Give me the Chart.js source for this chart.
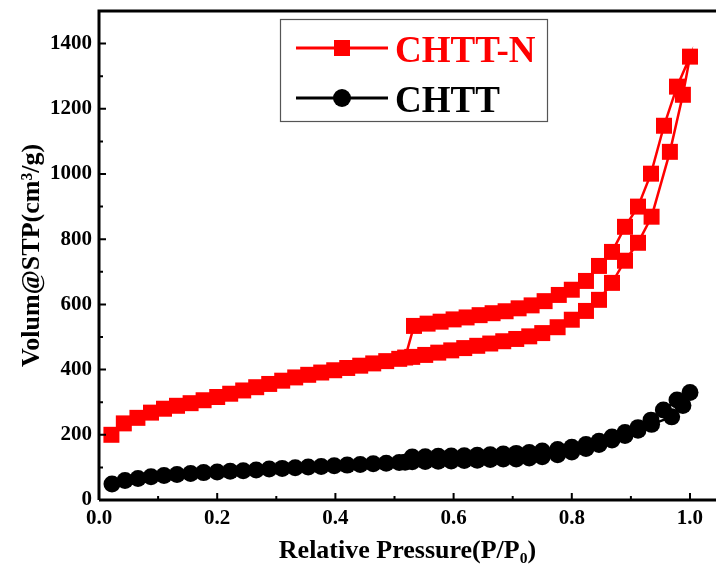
<!DOCTYPE html>
<html>
<head>
<meta charset="utf-8">
<script src="https://cdn.jsdelivr.net/npm/chart.js@4.4.1/dist/chart.umd.min.js"></script>
<style>
  html, body { margin: 0; padding: 0; background: #fff; }
  canvas { display: block; }
</style>
</head>
<body>
<canvas id="isotherm" width="716" height="571"></canvas>
<script>
// N2 isotherms (P/P0, cm3/g)
const seriesNames = ['CHTT-N', 'CHTT'];

const chttNAdsP = [0.021, 0.042, 0.065, 0.088, 0.110, 0.132, 0.155, 0.177, 0.200, 0.222, 0.244, 0.266, 0.288, 0.310, 0.332,
  0.354, 0.376, 0.398, 0.420, 0.442, 0.464, 0.486, 0.508, 0.530, 0.552, 0.574, 0.596, 0.618, 0.640, 0.662,
  0.684, 0.706, 0.728, 0.750, 0.776, 0.800, 0.824, 0.846, 0.868, 0.890, 0.912, 0.935, 0.966, 0.988, 1.000];
const chttNAdsV = [200, 235, 252, 268, 280, 289, 297, 306, 316, 326, 336, 346, 356, 366, 376,
  384, 391, 398, 405, 412, 419, 426, 433, 439, 445, 452, 459, 466, 473, 480,
  487, 494, 502, 512, 530, 553, 580, 614, 666, 734, 789, 869, 1068, 1243, 1360];
const chttNDesP = [0.978, 0.956, 0.934, 0.912, 0.890, 0.868, 0.846, 0.824, 0.800, 0.778, 0.754, 0.732, 0.710, 0.688,
  0.666, 0.644, 0.622, 0.600, 0.578, 0.556, 0.533, 0.518];
const chttNDesV = [1268, 1148, 1001, 900, 838, 761, 718, 672, 645, 629, 610, 597, 588, 579,
  573, 567, 560, 554, 547, 541, 534, 437];

const chttAdsP = [0.022, 0.044, 0.066, 0.088, 0.110, 0.132, 0.155, 0.177, 0.200, 0.222, 0.244, 0.266, 0.288, 0.310, 0.332,
  0.354, 0.376, 0.398, 0.420, 0.442, 0.464, 0.486, 0.508, 0.530, 0.552, 0.574, 0.596, 0.618, 0.640, 0.662,
  0.684, 0.706, 0.728, 0.750, 0.776, 0.800, 0.824, 0.846, 0.868, 0.890, 0.912, 0.935, 0.969, 0.988, 1.000];
const chttAdsV = [49, 60, 66, 71, 75, 78, 81, 84, 86, 88, 90, 92, 95, 97, 99,
  101, 103, 105, 107, 109, 111, 113, 115, 117, 118, 119, 120, 121, 122, 124,
  126, 126, 129, 133, 139, 147, 158, 170, 184, 198, 214, 232, 255, 290, 330];
const chttDesP = [0.978, 0.955, 0.934, 0.912, 0.890, 0.868, 0.846, 0.824, 0.800, 0.776, 0.750, 0.728, 0.706, 0.684,
  0.662, 0.640, 0.618, 0.596, 0.574, 0.552, 0.530, 0.518];
const chttDesV = [307, 276, 245, 222, 207, 193, 180, 170, 162, 155, 150, 146, 143, 141,
  139, 137, 136, 135, 134, 133, 132, 116];

const xMajorTicks = [0, 0.2, 0.4, 0.6, 0.8, 1.0];
const xMinorTicks = [0.1, 0.3, 0.5, 0.7, 0.9];
const yMajorTicks = [0, 200, 400, 600, 800, 1000, 1200, 1400];
const yMinorTicks = [100, 300, 500, 700, 900, 1100, 1300];

const serif = "'Times New Roman', 'Liberation Serif', serif";

function toPoints(px, py) {
  return px.map((p, i) => ({ x: p, y: py[i] }));
}

// inward tick marks and the plot frame
const frameAndTicks = {
  id: 'frameAndTicks',
  afterDatasetsDraw(chart) {
    const { ctx, chartArea: a, scales: { x, y } } = chart;
    ctx.save();
    ctx.strokeStyle = '#000';
    ctx.lineWidth = 2;
    ctx.beginPath();
    xMajorTicks.forEach(v => { const p = x.getPixelForValue(v); ctx.moveTo(p, a.bottom); ctx.lineTo(p, a.bottom - 7); });
    xMinorTicks.forEach(v => { const p = x.getPixelForValue(v); ctx.moveTo(p, a.bottom); ctx.lineTo(p, a.bottom - 4); });
    yMajorTicks.forEach(v => { const p = y.getPixelForValue(v); ctx.moveTo(a.left, p); ctx.lineTo(a.left + 7, p); });
    yMinorTicks.forEach(v => { const p = y.getPixelForValue(v); ctx.moveTo(a.left, p); ctx.lineTo(a.left + 4, p); });
    ctx.stroke();
    ctx.lineWidth = 3;
    ctx.beginPath();
    ctx.moveTo(a.left, a.bottom);
    ctx.lineTo(a.left, a.top);
    ctx.lineTo(a.right, a.top);
    ctx.moveTo(a.left, a.bottom);
    ctx.lineTo(a.right, a.bottom);
    ctx.stroke();
    ctx.restore();
  }
};

// boxed legend inside the plot, like the original
const boxLegend = {
  id: 'boxLegend',
  afterDraw(chart) {
    const ctx = chart.ctx;
    ctx.save();
    ctx.strokeStyle = '#555';
    ctx.lineWidth = 1.2;
    ctx.strokeRect(280.5, 19.5, 267, 102);
    ctx.font = 'bold 37px ' + serif;
    ctx.textBaseline = 'alphabetic';
    chart.data.datasets.forEach((ds, i) => {
      const cy = 48 + i * 50;
      ctx.strokeStyle = ds.borderColor;
      ctx.lineWidth = 3;
      ctx.beginPath();
      ctx.moveTo(296, cy);
      ctx.lineTo(388, cy);
      ctx.stroke();
      ctx.fillStyle = ds.backgroundColor;
      if (ds.pointStyle === 'rect') {
        ctx.fillRect(334, cy - 8, 16, 16);
      } else {
        ctx.beginPath();
        ctx.arc(342, cy, 9, 0, Math.PI * 2);
        ctx.fill();
      }
      ctx.fillStyle = ds.borderColor;
      ctx.fillText(ds.label, 395, cy + 14);
    });
    ctx.restore();
  }
};

new Chart(document.getElementById('isotherm'), {
  type: 'scatter',
  data: {
    datasets: [
      {
        label: seriesNames[0],
        data: toPoints(chttNAdsP.concat(chttNDesP), chttNAdsV.concat(chttNDesV)),
        showLine: true,
        borderColor: '#ff0000',
        backgroundColor: '#ff0000',
        borderWidth: 2.5,
        pointStyle: 'rect',
        pointRadius: 11.3,
        pointBorderWidth: 0,
        tension: 0,
        clip: false
      },
      {
        label: seriesNames[1],
        data: toPoints(chttAdsP.concat(chttDesP), chttAdsV.concat(chttDesV)),
        showLine: true,
        borderColor: '#000000',
        backgroundColor: '#000000',
        borderWidth: 2.5,
        pointStyle: 'circle',
        pointRadius: 8.5,
        pointBorderWidth: 0,
        tension: 0,
        clip: false
      }
    ]
  },
  options: {
    responsive: false,
    animation: false,
    layout: { autoPadding: false, padding: { top: 11, right: 0, left: 0, bottom: 0 } },
    plugins: {
      legend: { display: false },
      tooltip: { enabled: false }
    },
    scales: {
      x: {
        type: 'linear',
        min: 0,
        max: 1.044,
        afterFit: s => { s.height = 71; s.paddingLeft = 0; s.paddingRight = 0; },
        afterBuildTicks: s => { s.ticks = xMajorTicks.map(v => ({ value: v })); },
        grid: { display: false, drawTicks: false },
        border: { display: false },
        ticks: {
          padding: 6,
          color: '#000',
          font: { family: serif, size: 21, weight: 'bold' },
          callback: v => v.toFixed(1)
        },
        title: {
          display: true,
          text: 'Relative Pressure(P/P\u2080)',
          color: '#000',
          font: { family: serif, size: 26, weight: 'bold', lineHeight: 1 },
          padding: { top: 0, bottom: 7 }
        }
      },
      y: {
        type: 'linear',
        min: 0,
        max: 1500,
        afterFit: s => { s.width = 99; s.paddingTop = 0; s.paddingBottom = 0; },
        afterBuildTicks: s => { s.ticks = yMajorTicks.map(v => ({ value: v })); },
        grid: { display: false, drawTicks: false },
        border: { display: false },
        ticks: {
          padding: 7,
          color: '#000',
          font: { family: serif, size: 21, weight: 'bold' },
          callback: v => String(v)
        },
        title: {
          display: true,
          text: 'Volum@STP(cm\u00b3/g)',
          color: '#000',
          font: { family: serif, size: 26, weight: 'bold', lineHeight: 1 },
          padding: { top: 19, bottom: 0 }
        }
      }
    }
  },
  plugins: [frameAndTicks, boxLegend]
});
</script>
</body>
</html>
